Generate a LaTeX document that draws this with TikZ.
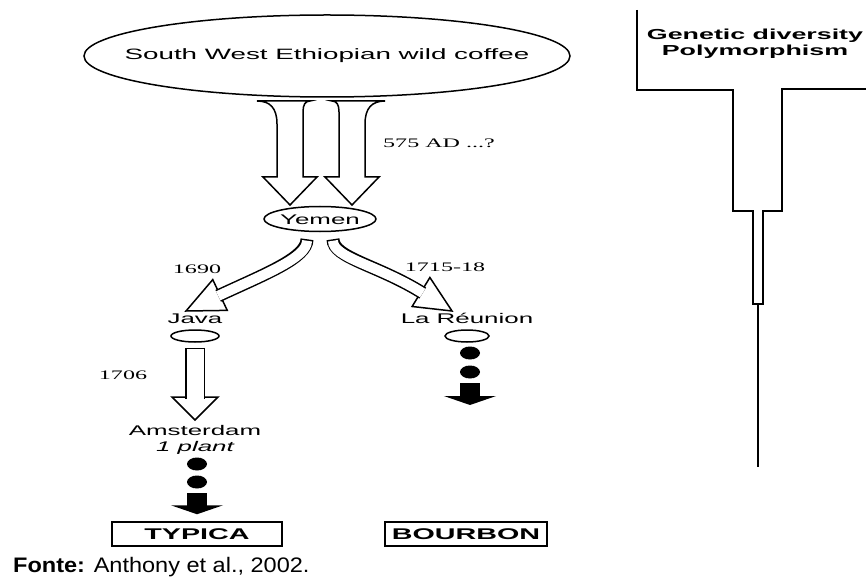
\documentclass[tikz,border=0pt]{standalone}
\usepackage{fontspec}
\setmainfont{Liberation Sans}
\newfontfamily\wsans[FakeStretch=1.85]{Liberation Sans}
\newfontfamily\wserif[FakeStretch=1.85]{Liberation Serif}
\newfontfamily\fsans[FakeStretch=1.12]{Liberation Sans}
\usepackage{tikz}
\usetikzlibrary{arrows.meta,positioning,shapes.geometric,calc}

% open triangle head: base, tip, half width
\newcommand{\hollowhead}[3]{%
  \draw[hollow] ($(#1)!#3!90:(#2)$) -- (#2) -- ($(#1)!#3!-90:(#2)$) -- cycle;}

\begin{document}
\begin{tikzpicture}[
  x=1pt, y=-1pt,
  oval/.style={ellipse, draw, line width=1.5pt, inner sep=0pt},
  place/.style={font=\wsans\fontsize{14}{16}\selectfont, inner sep=0pt, text height=10pt, text depth=0pt},
  year/.style={font=\wserif\fontsize{13}{15}\selectfont, inner sep=0pt, text height=9pt, text depth=0pt},
  gene/.style={font=\wsans\bfseries\fontsize{14.5}{16}\selectfont, inner sep=0pt, text height=10pt, text depth=0pt},
  blob/.style={ellipse, fill=black, minimum width=20pt, minimum height=13pt, inner sep=0pt},
  variety/.style={draw, line width=1.5pt, minimum height=24pt, inner sep=0pt, font=\wsans\bfseries\fontsize{15.5}{18}\selectfont},
  hollow/.style={draw, line width=1.5pt, fill=white, line join=miter},
  shaft/.style={line width=#1+3pt, postaction={draw=white, line width=#1, shorten <=1.5pt}},
  fillarrow/.style={line width=20pt, -{Triangle[length=9pt, width=52pt]}}
]
  \useasboundingbox (0,0) rectangle (866,577);

  % origin and the two routes
  \node[oval, minimum width=486pt, minimum height=82pt,
        label={[font=\wsans\fontsize{15}{18}\selectfont]center:South West Ethiopian wild coffee}] (eth) at (327,56) {};
  \node[oval, minimum width=112pt, minimum height=25pt, label={[place]center:Yemen}] (yemen) at (320,219) {};

  \node[place] (java) at (195,318) {Java};
  \node[oval, minimum width=48pt, minimum height=12pt] (javaov) at (195,336) {};
  \node[place] (reunion) at (467,318) {La Réunion};
  \node[oval, minimum width=44pt, minimum height=12pt] (reunov) at (467,336) {};

  \node[place] (amsterdam) at (195,430) {Amsterdam};
  \node[place, font=\wsans\itshape\fontsize{14}{16}\selectfont] (plant) at (195,446) {1 plant};

  \node[blob] (dotA1) at (197,464) {};
  \node[blob] (dotA2) at (197,482) {};
  \node[blob] (dotB1) at (470,353) {};
  \node[blob] (dotB2) at (470,372) {};

  \node[variety, minimum width=170pt] (typica) at (197,534) {TYPICA};
  \node[variety, minimum width=162pt] (bourbon) at (466,534) {BOURBON};

  % dates
  \node[year, anchor=west] (d575) at (383,143) {575 AD ...?};
  \node[year] (d1690) at (197,269) {1690};
  \node[year] (d1715) at (445,267) {1715-18};
  \node[year] (d1706) at (123,375) {1706};

  % two wide arrows down to Yemen
  \draw[hollow] (257,101) .. controls (270,101) and (277,108) .. (277,124) -- (277,177) -- (263,177)
    -- (290,205) -- (317,177) -- (303,177) -- (303,112) .. controls (303,105) and (305,101) .. (310,101) -- cycle;
  \draw[hollow] (385,101) .. controls (372,101) and (365,108) .. (365,124) -- (365,177) -- (379,177)
    -- (352,205) -- (325,177) -- (339,177) -- (339,112) .. controls (339,105) and (337,101) .. (332,101) -- cycle;

  % curved arrows out of Yemen, and Java to Amsterdam
  \coordinate (baseL) at (220,295);
  \coordinate (tipL) at (186,311);
  \coordinate (baseR) at (421,292);
  \coordinate (tipR) at (452,311);
  \coordinate (baseJ) at (195,397);
  \coordinate (tipJ) at (195,420);
  \hollowhead{baseL}{tipL}{17pt}
  \hollowhead{baseR}{tipR}{17pt}
  \hollowhead{baseJ}{tipJ}{23pt}
  \draw[shaft=10pt] ([xshift=-13pt,yshift=-7pt]yemen.south) .. controls (307,258) and (265,274) .. ($(baseL)!2pt!(tipL)$);
  \draw[shaft=10pt] ([xshift=13pt,yshift=-7pt]yemen.south) .. controls (333,258) and (378,265) .. ($(baseR)!2pt!(tipR)$);
  \draw[shaft=17pt] ([yshift=-5pt]javaov.south) -- ($(baseJ)!2pt!(tipJ)$);

  % solid arrows
  \coordinate (endB) at (470,405);
  \draw[fillarrow, shorten <=4.5pt, shorten >=7pt] (dotA2.south) -- (typica.north);
  \draw[fillarrow, shorten <=4.5pt] (dotB2.south) -- (endB);

  % diversity funnel
  \node[gene] (genetic) at (755,35) {Genetic diversity};
  \node[gene, below=5pt of genetic] (polymorph) {Polymorphism};
  \draw[line width=1.6pt] (637,10) -- (637,90) -- (733,90) -- (733,211) -- (753,211) -- (753,304)
    -- (763,304) -- (763,211) -- (782,211) -- (782,89) -- (866,89);
  \draw[line width=1.6pt] (758,304) -- (758,467);

  \node[anchor=base west, inner sep=0pt, font=\fsans\fontsize{21}{24}\selectfont] (source) at (13,572)
    {\textbf{Fonte:} Anthony et al., 2002.};
\end{tikzpicture}
\end{document}
